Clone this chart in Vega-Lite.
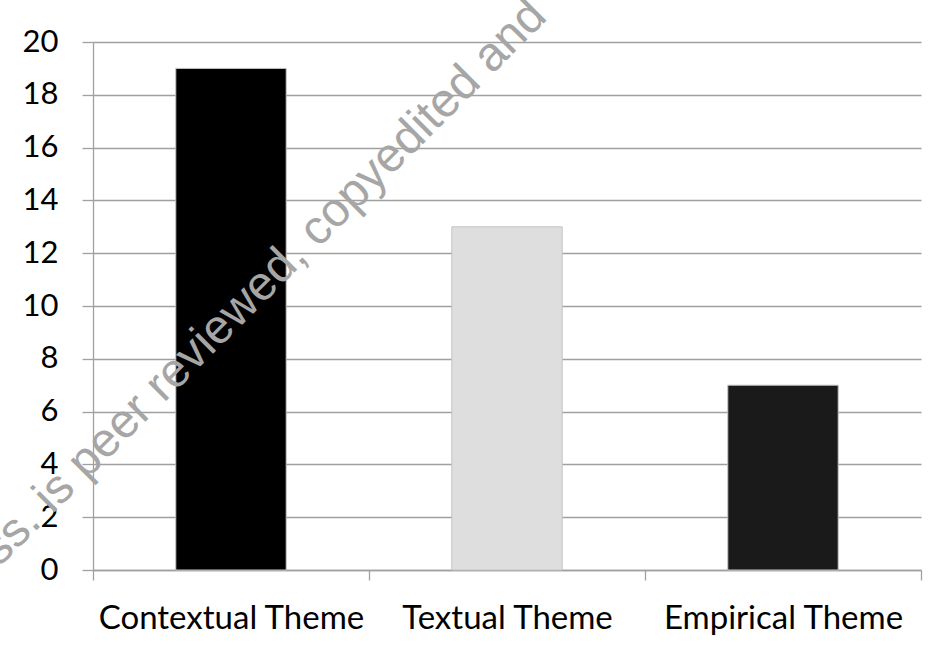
{
  "$schema": "https://vega.github.io/schema/vega-lite/v6.json",
  "width": 828,
  "height": 528,
  "autosize": {"type": "none"},
  "padding": {"left": 93, "top": 42, "right": 18, "bottom": 76},
  "background": "white",
  "config": {"view": {"stroke": null}, "font": "Lato"},
  "layer": [
    {
      "data": {"values": [
        {"theme": "Contextual Theme", "count": 19},
        {"theme": "Textual Theme", "count": 13},
        {"theme": "Empirical Theme", "count": 7}
      ]},
      "mark": {"type": "bar", "stroke": "#c4c4c4", "strokeWidth": 1, "width": {"band": 0.4}},
      "encoding": {
        "x": {
          "field": "theme", "type": "nominal",
          "scale": {"domain": ["Contextual Theme", "Textual Theme", "Empirical Theme"], "paddingInner": 0, "paddingOuter": 0},
          "axis": {"title": null, "labelAngle": 0, "labelLimit": 0, "tickBand": "extent", "tickSize": 10, "tickWidth": 1.3, "tickColor": "#a0a0a0", "domainColor": "#a0a0a0", "domainWidth": 1.3, "labelFontSize": 33, "labelColor": "black", "labelPadding": 22, "grid": false}
        },
        "y": {
          "field": "count", "type": "quantitative",
          "scale": {"domain": [0, 20], "nice": false},
          "axis": {"title": null, "values": [0, 2, 4, 6, 8, 10, 12, 14, 16, 18, 20], "tickSize": 11, "tickWidth": 1.3, "tickColor": "#a0a0a0", "domainColor": "#a0a0a0", "domainWidth": 1.3, "grid": true, "gridColor": "#a0a0a0", "gridWidth": 1.3, "labelFontSize": 31, "labelColor": "black", "labelPadding": 24}
        },
        "color": {
          "field": "theme", "type": "nominal",
          "scale": {"domain": ["Contextual Theme", "Textual Theme", "Empirical Theme"], "range": ["#000000", "#dedede", "#1a1a1a"]},
          "legend": null
        }
      }
    },
    {
      "data": {"values": [
        {"theme": "Contextual Theme", "count": 10.5, "note": "ss. is peer reviewed, copyedited and"}
      ]},
      "mark": {"type": "text", "angle": 315, "align": "center", "baseline": "alphabetic", "font": "Liberation Sans", "fontSize": 48, "color": "#a6a6a6"},
      "encoding": {
        "x": {"field": "theme", "type": "nominal", "bandPosition": 0.656},
        "y": {"field": "count", "type": "quantitative"},
        "text": {"field": "note"}
      }
    }
  ]
}
